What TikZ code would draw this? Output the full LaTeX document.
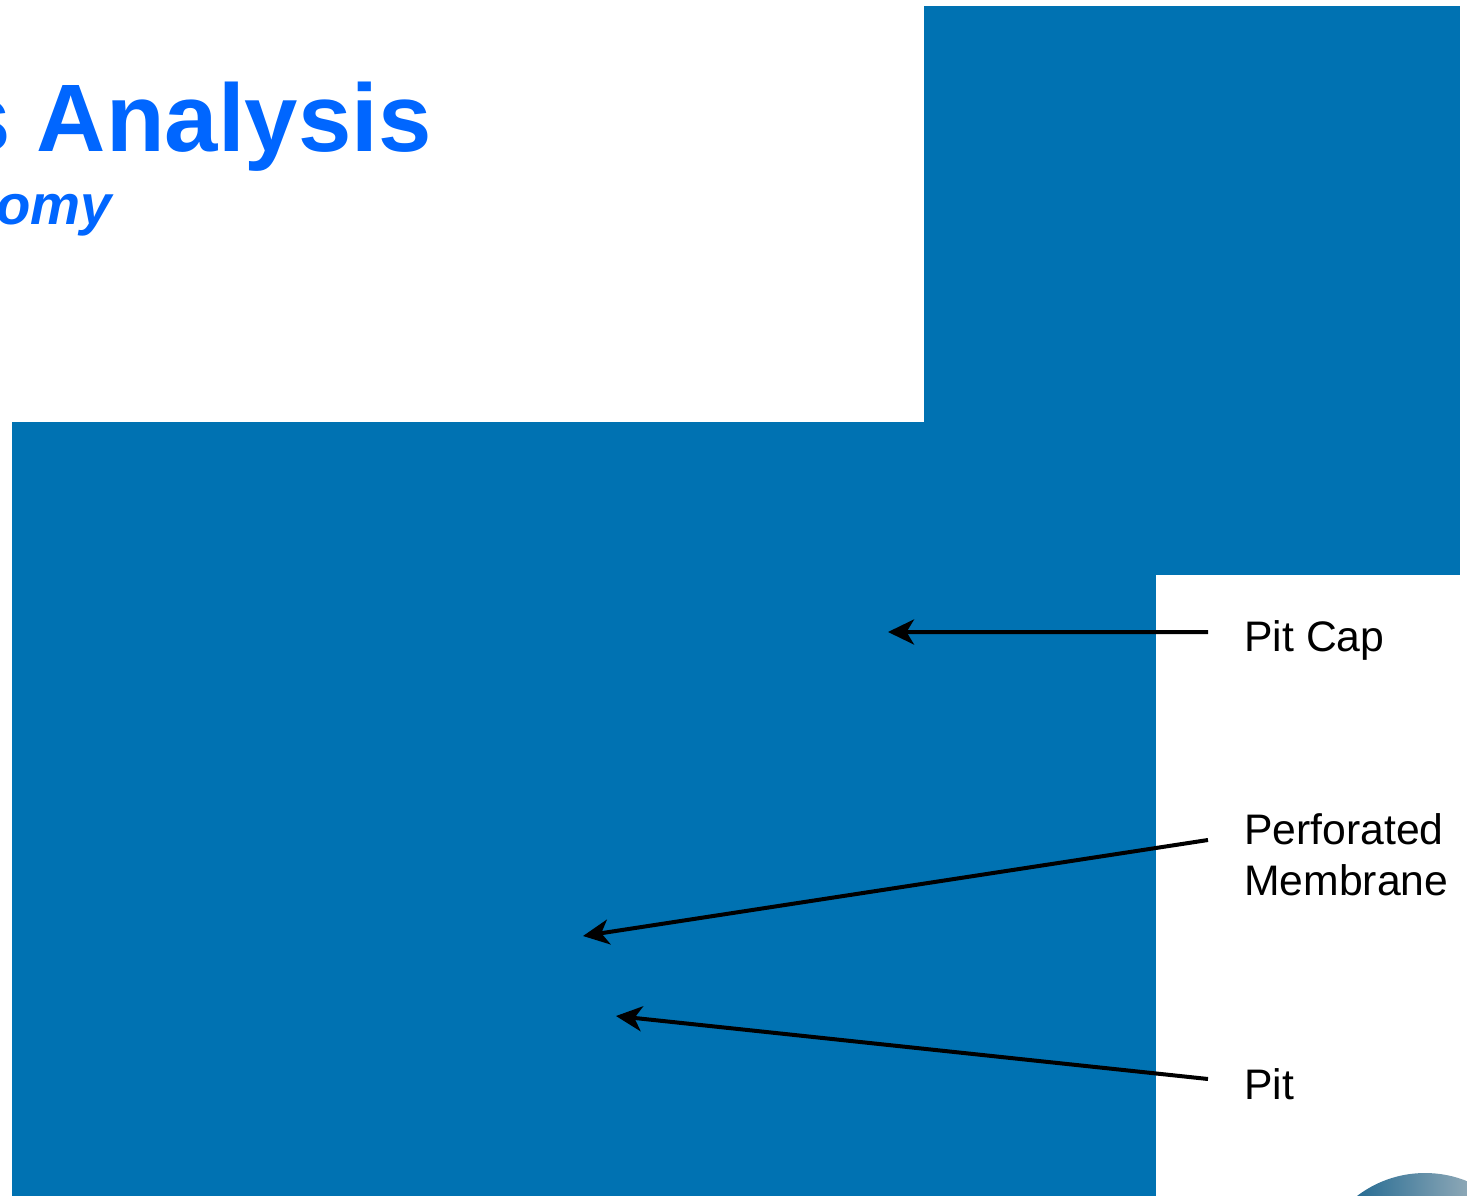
\documentclass[tikz,border=0pt]{standalone}
\usepackage{fontspec}
\setmainfont{Liberation Sans}
\usetikzlibrary{arrows.meta}
\definecolor{panelblue}{RGB}{0,114,178}
\definecolor{titleblue}{RGB}{0,102,255}
\begin{document}
\begin{tikzpicture}[
  x=0.02cm, y=-0.02cm,
  panel/.style={fill=panelblue},
  heading/.style={anchor=base east, inner sep=0pt, text=titleblue},
  callout/.style={anchor=north west, inner xsep=0.72cm, inner ysep=0pt, align=left, font=\fontsize{24.3}{29}\selectfont},
  pointer/.style={line width=0.08cm, -{Stealth[length=0.52cm, width=0.5cm, inset=0.15cm]}},
]
  \clip (0,0) rectangle (1467,1196);
  \fill[white] (0,0) rectangle (1467,1196);
  \fill[panel] (924,6) rectangle (1460,575);
  \fill[panel] (12,422) rectangle (1156,1196);
  \shade[left color=panelblue!75!black, middle color=panelblue, right color=gray!40] (1425,1285) circle [radius=112];

  \node[heading, font=\fontsize{54.6}{60}\selectfont\bfseries] (title) at (432,152) {s Analysis};
  \node[heading, font=\fontsize{32}{36}\selectfont\bfseries\itshape] (subtitle) at (112,225) {omy};

  \node[callout] (pitcap) at (1208,620) {Pit Cap};
  \node[callout] (membrane) at (1208,813) {Perforated\\Membrane};
  \node[callout] (pit) at (1208,1068) {Pit};

  \coordinate (captip) at (888,632);
  \coordinate (membtip) at (583,936);
  \coordinate (pittip) at (616,1016);

  \draw[pointer] ([yshift=-0.24cm]pitcap.north west) -- (captip);
  \draw[pointer] ([yshift=-0.54cm]membrane.north west) -- (membtip);
  \draw[pointer] ([yshift=-0.22cm]pit.north west) -- (pittip);
\end{tikzpicture}
\end{document}
